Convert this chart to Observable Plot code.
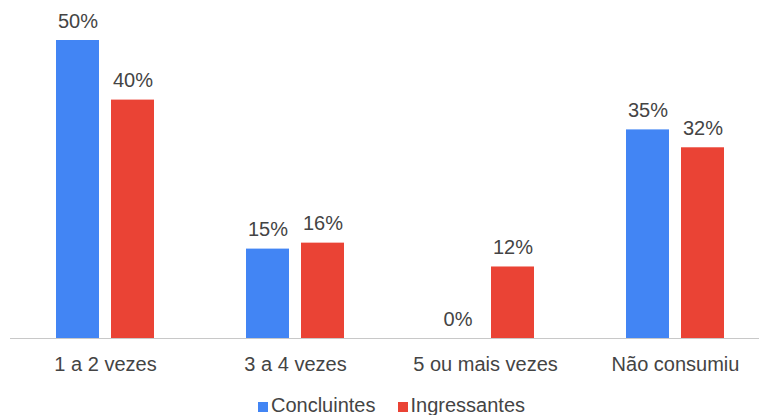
<!DOCTYPE html>
<html>
<head>
<meta charset="utf-8">
<script src="https://cdn.jsdelivr.net/npm/d3@7"></script>
<script src="https://cdn.jsdelivr.net/npm/@observablehq/plot@0.6"></script>
<style>
  html, body { margin: 0; padding: 0; background: #fff; }
  #chart { width: 759px; }
  .legend { display: flex; justify-content: center; align-items: center; margin-left: 24px; margin-top: 15px;
            font-family: Arial, "Liberation Sans", sans-serif; font-size: 20px; line-height: 20px; color: #444; }
  .legend .item { display: flex; align-items: center; margin: 0 11px; }
  .legend .sw { width: 10px; height: 10px; margin-right: 3px; margin-top: 3px; }
</style>
</head>
<body>
<div id="chart"></div>
<script>
const categories = ["1 a 2 vezes", "3 a 4 vezes", "5 ou mais vezes", "Não consumiu"];
const series = ["Concluintes", "Ingressantes"];
const concluintes = [50, 15, 0, 35];
const ingressantes = [40, 16, 12, 32];
const colors = ["#4285F4", "#EA4335"];

const data = [];
categories.forEach((c, i) => {
  data.push({category: c, series: series[0], value: concluintes[i]});
  data.push({category: c, series: series[1], value: ingressantes[i]});
});

const font = 'Arial, "Liberation Sans", sans-serif';

const plot = Plot.plot({
  width: 759,
  height: 380,
  marginTop: 40,
  marginBottom: 42,
  marginLeft: 0,
  marginRight: 0,
  style: {fontFamily: font, fontSize: "20px", color: "#444", background: "#fff"},
  fx: {domain: categories, range: [10, 770], padding: 0, label: null},
  x: {domain: series, paddingInner: 0.218, paddingOuter: 0.836, axis: null},
  y: {domain: [0, 50], axis: null},
  color: {domain: series, range: colors},
  marks: [
    Plot.barY(data, {fx: "category", x: "series", y: "value", fill: "series"}),
    Plot.ruleY([0], {stroke: "#c8c8c8", strokeWidth: 1}),
    Plot.text(data, {fx: "category", x: "series", y: "value", text: d => d.value + "%",
      lineAnchor: "bottom", dy: -13, fontSize: 20, fill: "#444"}),
    Plot.axisFx({anchor: "bottom", tickSize: 0, tickPadding: 18, fontSize: 20, fill: "#444", label: null})
  ]
});
document.getElementById("chart").appendChild(plot);

const legend = d3.select("#chart").append("div").attr("class", "legend");
series.forEach((s, i) => {
  const item = legend.append("div").attr("class", "item");
  item.append("div").attr("class", "sw").style("background", colors[i]);
  item.append("span").text(s);
});
</script>
</body>
</html>
